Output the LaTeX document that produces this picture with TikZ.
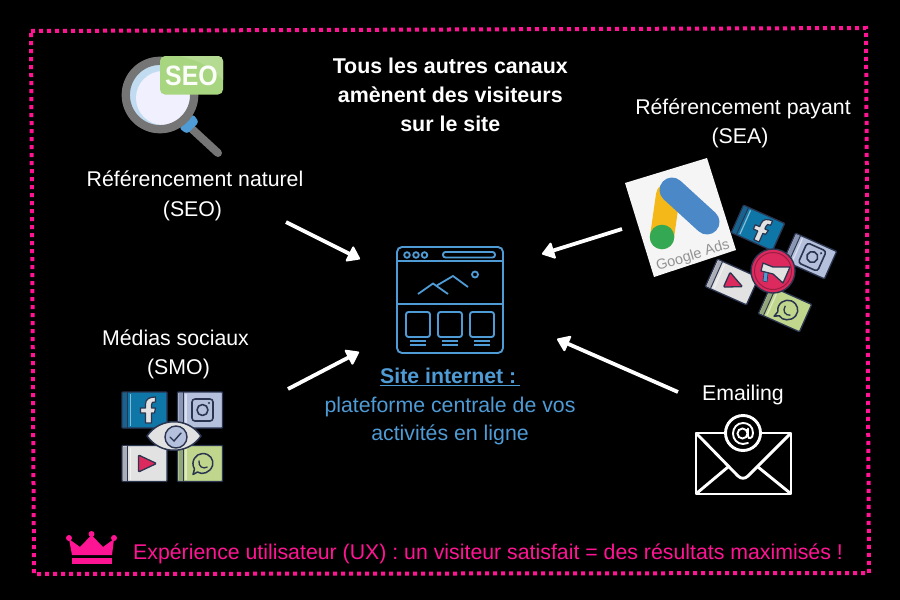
\documentclass[tikz,border=0pt]{standalone}
\usepackage{fontspec}
\setmainfont{Liberation Sans}
\usetikzlibrary{arrows.meta}
\definecolor{pinkc}{HTML}{FF1493}
\definecolor{blu}{HTML}{4F9BD5}
\definecolor{navy}{HTML}{2B3550}
\definecolor{fbb}{HTML}{0F76A8}
\definecolor{igb}{HTML}{B4C0DC}
\definecolor{wab}{HTML}{BFD68C}
\definecolor{ytb}{HTML}{E2E2E2}
\definecolor{red1}{HTML}{DC2A5E}
\definecolor{sp}{HTML}{A8D57F}
\definecolor{lensgray}{HTML}{757575}
\definecolor{gyellow}{HTML}{F4B818}
\definecolor{gblue}{HTML}{4A88C7}
\definecolor{ggreen}{HTML}{34A853}
\tikzset{
 txt/.style={text=white,font=\fontsize{21.3}{29.5}\selectfont,align=center,inner sep=0pt},
 flow/.style={draw=white,line width=3.8pt,-{Triangle[length=13pt,width=18pt,line width=2pt,round]}},
 web/.style={draw=blu,line width=1.9pt,rounded corners=2.5pt},
 mail/.style={draw=white,line width=2.9pt,line join=round},
 ico/.style={draw=navy,line width=1.4pt,line join=round},
}
\newcommand{\bookicon}[3]{%
 \fill[#1,draw=navy,line width=1.3pt,rounded corners=.8pt] (-#2,-#3) rectangle (#2,#3);
 \fill[#1!70!navy] (-#2+1,-#3+1) rectangle (-#2+5,#3-1);
 \draw[navy,line width=1pt] (-#2+5.5,-#3) -- (-#2+5.5,#3);
 \draw[white,opacity=.5,line width=1.2pt] (-#2+8.5,-#3+2) -- (-#2+8.5,#3-2);
}
\newcommand{\fbglyph}{\draw[ico,fill=ytb,line width=1.2pt] (-1,13) -- (-1,3) -- (-6,3) -- (-6,-2) -- (-1,-2) -- (-1,-6) .. controls (-1,-11) and (3,-13) .. (9,-13) -- (9,-8) .. controls (6,-8) and (5,-8) .. (5,-5) -- (5,-2) -- (9,-2) -- (8,3) -- (5,3) -- (5,13) -- cycle;}
\newcommand{\igglyph}{\draw[ico,rounded corners=3pt,line width=1.6pt,fill=igb] (-8,-11) rectangle (13,11); \draw[ico,line width=1.6pt] (2.5,0) circle (5.5); \fill[navy] (9,-7) circle (1.2);}
\newcommand{\ytglyph}{\draw[ico,fill=red1,rounded corners=1pt,line width=1.3pt] (-6,-8.5) -- (12,0) -- (-6,8.5) -- cycle;}
\newcommand{\waglyph}{\draw[ico,line width=1.5pt,fill=wab] (-7,11) -- (-5.5,5.5) .. controls (-10,-2) and (-4,-10) .. (2.5,-10) .. controls (10,-10) and (14,-4) .. (12.5,2) .. controls (10.5,9) and (2,12) .. (-2.5,8.5) -- cycle; \draw[ico,line width=1.3pt] (-1,-3) .. controls (-2,3) and (3,6) .. (7.5,3.5);}
\begin{document}
\begin{tikzpicture}[x=1pt,y=-1pt]
\useasboundingbox (0,0) rectangle (900,600);
\fill[black] (0,0) rectangle (900,600);
% frame
\draw[pinkc,line width=4pt,dash pattern=on 4pt off 4pt] (31,31) -- (866,28) -- (869,573) -- (34,574) -- cycle;
% texts
\node[txt] (seo) at (195,196) {Référencement naturel\\\hspace*{-5pt}(SEO)};
\node[txt,font=\fontsize{21.4}{29}\selectfont\bfseries] (title) at (450.3,95) {Tous les autres canaux\\amènent des visiteurs\\sur le site};
\node[txt] (sea) at (743,123.5) {Référencement payant\\\hspace*{-6pt}(SEA)};
\node[txt] (smo) at (175.5,354.5) {Médias sociaux\\\hspace*{6pt}(SMO)};
\node[txt] (em) at (743,395) {Emailing};
\node[txt,text=blu,font=\fontsize{21.3}{28.5}\selectfont] (site) at (450,406.5) {\textbf{\underline{Site internet :\,}}\\plateforme centrale de vos\\activités en ligne};
\node[inner sep=0pt,text=pinkc,font=\fontsize{21.3}{26}\selectfont,anchor=west] (ux) at (133,554) {Expérience utilisateur (UX) : un visiteur satisfait = des résultats maximisés !};
% crown
\fill[pinkc,line join=round] (69,539) -- (80,547) -- (91.5,535) -- (103,547) -- (114,539) -- (112,555) -- (72,555) -- cycle;
\fill[pinkc] (69,538) circle (3) (91.5,534) circle (3) (114,538) circle (3);
\fill[pinkc] (72,558) rectangle (112,563.5);
% magnifier
\draw[line cap=round,line width=8pt,color=lensgray] (192,129) -- (218,153);
\fill[blu,rounded corners=3pt] (179,128) -- (193,114) -- (199,122) -- (187,134) -- cycle;
\fill[blu!35!white] (160,95) circle (31);
\fill[blue!6!white] (163,98) circle (27);
\draw[lensgray,line width=8.3pt] (160,95) circle (34.2);
\fill[sp,rounded corners=5pt] (160,56) rectangle (223,94.5);
\fill[sp!85!white] (180,56) -- (218,56) .. controls (221,56) and (223,58) .. (223,61) -- (223,80) .. controls (210,65) and (195,60) .. cycle;
\node[inner sep=0pt,text=white!95!sp,font=\fontsize{28}{28}\selectfont\bfseries] (seotag) at (191.5,76) {\scalebox{.89}[1]{SEO}};
% web icon
\draw[web,rounded corners=5pt] (397,247) rectangle (503,353);
\draw[web,rounded corners=0pt] (397,261) -- (503,261) (397,304) -- (503,304);
\draw[blu,line width=1.8pt] (407,255) circle (2.8) (416,255) circle (2.8) (424.5,255) circle (2.8);
\draw[web] (443,252) rectangle (495,257.5);
\draw[blu,line width=1.8pt] (418,294) -- (433,283.5) -- (448,294) (436,286) -- (453,276) -- (468,287);
\draw[blu,line width=1.8pt] (475,274.5) circle (3);
\foreach \xa in {406,438,470}{
 \draw[web] (\xa,312) rectangle ++(24,25);
 \draw[blu,line width=1.3pt] (\xa+4,341) -- ++(16,0) (\xa+4,345) -- ++(16,0);
}
% SMO icon group
\begin{scope}[shift={(144.5,410)}]\bookicon{fbb}{22.5}{18}\begin{scope}[shift={(2,0)}]\fbglyph\end{scope}\end{scope}
\begin{scope}[shift={(200,410)}]\bookicon{igb}{22.5}{18}\igglyph\end{scope}
\begin{scope}[shift={(144.5,463.5)}]\bookicon{ytb}{22.5}{18}\ytglyph\end{scope}
\begin{scope}[shift={(200,463.5)}]\bookicon{wab}{22.5}{18}\waglyph\end{scope}
\draw[ico,fill=ytb,line width=1.5pt] (147,436) .. controls (160,417) and (188,417) .. (201,436) .. controls (188,455) and (160,455) .. cycle;
\draw[ico,fill=igb,line width=1.4pt] (176,437) circle (11);
\draw[navy,line width=1.4pt,line cap=round] (170,437) -- (174,441) -- (181,433);
% google ads card
\fill[white!96!black] (625,183) -- (707,158) -- (736,250) -- (654,277) -- cycle;
\draw[line width=24pt,color=gyellow,line cap=round] (668,195) -- (662,237);
\draw[line width=25pt,color=gblue,line cap=round] (672,190) -- (707,222);
\fill[ggreen] (662,237) circle (12.3);
\node[rotate=17,text=gray!85!white,inner sep=0pt,font=\fontsize{14.5}{15}\selectfont] (gads) at (693,256) {Google Ads};
% SEA icon group
\begin{scope}[shift={(758,228)},rotate=-24]\bookicon{fbb}{22.5}{15}\begin{scope}[scale=.95,shift={(2,0)}]\fbglyph\end{scope}\end{scope}
\begin{scope}[shift={(810,256)},rotate=-24]\bookicon{igb}{22.5}{15}\igglyph\end{scope}
\begin{scope}[shift={(732,282)},rotate=-24]\bookicon{ytb}{22.5}{15}\begin{scope}[scale=.95]\ytglyph\end{scope}\end{scope}
\begin{scope}[shift={(785,309)},rotate=-24]\bookicon{wab}{22.5}{15}\waglyph\end{scope}
\draw[navy,fill=red1,line width=1.4pt] (773,271) circle (22);
\draw[red1!70!black,line width=1pt] (773,271) circle (18.5);
\draw[ico,fill=ytb,line width=1.3pt] (763,263) -- (773,267) -- (790,267) -- (783,283) -- (773,274) -- (761,271) -- cycle;
\fill[blu,draw=navy,line width=.6pt] (764,272) -- (768,273) -- (767,282) -- (763,281) -- cycle;
% mail
\draw[mail] (696,433) rectangle (791,494);
\draw[mail] (696,433) -- (738,476) .. controls (741,479) and (745,479) .. (748,476) -- (791,433);
\draw[mail] (697,493) -- (728,467) (790,493) -- (758,467);
\fill[black] (743,433) circle (18);
\draw[white,line width=2.9pt] (743,433) circle (17.5);
\draw[white,line width=1.9pt] (742.5,433.5) circle (5);
\draw[white,line width=1.9pt,line cap=round] (748,428.5) -- (748,436) .. controls (748,439.5) and (753,439) .. (753,433) .. controls (753,426) and (748,423) .. (743,423) .. controls (737,423) and (733,428) .. (733,433.5) .. controls (733,439) and (737,444) .. (743,444) -- (748,443);
% connectors
\coordinate (a1s) at (286,222); \coordinate (a1e) at (360,259);
\coordinate (a2s) at (288,389); \coordinate (a2e) at (359,352);
\coordinate (a3s) at (622,229); \coordinate (a3e) at (542,254);
\coordinate (a4s) at (678,392); \coordinate (a4e) at (557,339);
\draw[flow] (a1s) -- (a1e);
\draw[flow] (a2s) -- (a2e);
\draw[flow] (a3s) -- (a3e);
\draw[flow] (a4s) -- (a4e);
\end{tikzpicture}
\end{document}
